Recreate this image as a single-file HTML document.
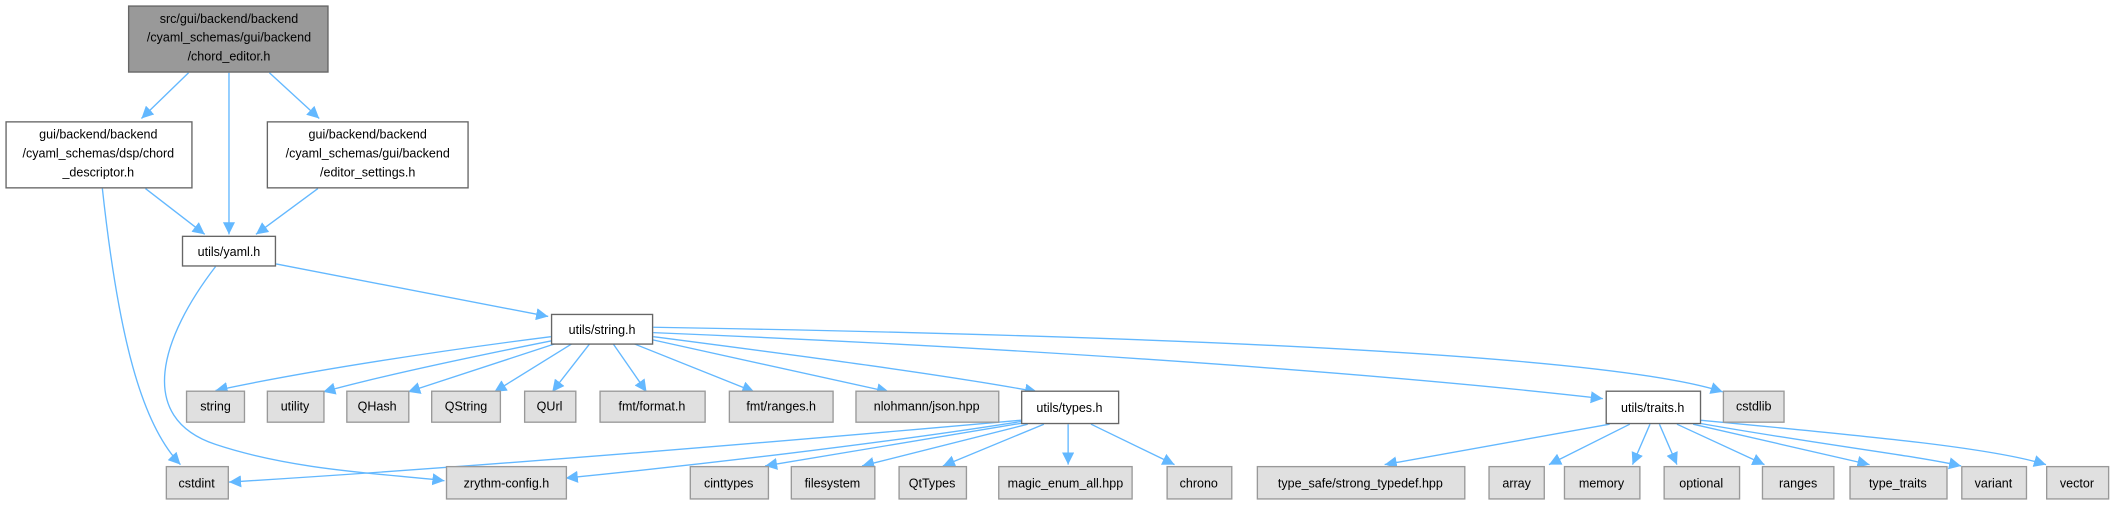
<!DOCTYPE html>
<html><head><meta charset="utf-8"><style>
html,body{margin:0;padding:0;background:#fff;}
svg{display:block;}
text{font-family:"Liberation Sans",sans-serif;font-size:9.3px;fill:#000;text-anchor:middle;}
.w{fill:#fff;stroke:#666;stroke-width:1;}
.g{fill:#e0e0e0;stroke:#999;stroke-width:1;}
.m{fill:#999;stroke:#666;stroke-width:1;}
.e{fill:none;stroke:#63b8ff;stroke-width:1;marker-end:url(#a);}
</style></head><body>
<svg width="2112" height="505" viewBox="0 0 1568 375" preserveAspectRatio="none" xmlns="http://www.w3.org/2000/svg">
<defs><marker id="a" viewBox="0 0 10 10" refX="10" refY="5" markerWidth="9" markerHeight="9" markerUnits="userSpaceOnUse" orient="auto"><path d="M0,0 L10,5 L0,10 z" fill="#63b8ff"/></marker></defs>
<path class="e" d="M140,54 L105,88"/>
<path class="e" d="M170,54 L170,174"/>
<path class="e" d="M200,54 L237,88"/>
<path class="e" d="M108,140 L152,174"/>
<path class="e" d="M236,140 L190,174"/>
<path class="e" d="M76,140 C88,250 105,315 134,345"/>
<path class="e" d="M160,198 C120,250 100,310 160,330 C220,350 290,352 330,357"/>
<path class="e" d="M205,196 L407,235"/>
<path class="e" d="M409,250 C330,260 230,275 160,290"/>
<path class="e" d="M410,253 C350,265 280,280 240,291"/>
<path class="e" d="M413,255 L303,291"/>
<path class="e" d="M425,255 L367,291"/>
<path class="e" d="M438,255 L410,291"/>
<path class="e" d="M455,255 L480,291"/>
<path class="e" d="M470,255 L560,291"/>
<path class="e" d="M483,252 L660,291"/>
<path class="e" d="M485,250 C600,265 700,278 770,291"/>
<path class="e" d="M485,247 C800,260 1050,280 1190,296"/>
<path class="e" d="M485,243 C900,250 1200,265 1279,291"/>
<path class="e" d="M758,312 C500,335 300,350 170,358"/>
<path class="e" d="M758,313 C650,330 520,345 420,355"/>
<path class="e" d="M760,314 L568,346"/>
<path class="e" d="M763,315 L640,346"/>
<path class="e" d="M775,315 L700,346"/>
<path class="e" d="M793,315 L793,345"/>
<path class="e" d="M810,315 L872,345"/>
<path class="e" d="M1195,315 L1028,345"/>
<path class="e" d="M1210,315 L1150,345"/>
<path class="e" d="M1225,315 L1212,345"/>
<path class="e" d="M1232,315 L1245,345"/>
<path class="e" d="M1245,315 L1310,345"/>
<path class="e" d="M1257,315 L1388,345"/>
<path class="e" d="M1260,314 C1350,330 1420,338 1456,346"/>
<path class="e" d="M1262,312 C1400,325 1480,333 1519,345"/>
<rect class="m" x="95.5" y="4.5" width="148" height="49"/>
<text x="170" y="17">src/gui/backend/backend</text><text x="170" y="31">/cyaml_schemas/gui/backend</text><text x="170" y="45">/chord_editor.h</text>
<rect class="w" x="4.5" y="90.5" width="138" height="49"/>
<text x="73" y="103">gui/backend/backend</text><text x="73" y="117">/cyaml_schemas/dsp/chord</text><text x="73" y="131">_descriptor.h</text>
<rect class="w" x="198.5" y="90.5" width="149" height="49"/>
<text x="273" y="103">gui/backend/backend</text><text x="273" y="117">/cyaml_schemas/gui/backend</text><text x="273" y="131">/editor_settings.h</text>
<rect class="w" x="135.5" y="175.5" width="69" height="22"/><text x="170" y="190">utils/yaml.h</text>
<rect class="w" x="409.5" y="233.5" width="75" height="22"/><text x="447" y="248">utils/string.h</text>
<rect class="g" x="138.5" y="290.5" width="43" height="23"/><text x="160" y="305">string</text>
<rect class="g" x="198.5" y="290.5" width="42" height="23"/><text x="219" y="305">utility</text>
<rect class="g" x="257.5" y="290.5" width="46" height="23"/><text x="280" y="305">QHash</text>
<rect class="g" x="320.5" y="290.5" width="51" height="23"/><text x="346" y="305">QString</text>
<rect class="g" x="389.5" y="290.5" width="38" height="23"/><text x="408" y="305">QUrl</text>
<rect class="g" x="445.5" y="290.5" width="78" height="23"/><text x="484" y="305">fmt/format.h</text>
<rect class="g" x="541.5" y="290.5" width="77" height="23"/><text x="580" y="305">fmt/ranges.h</text>
<rect class="g" x="635.5" y="290.5" width="106" height="23"/><text x="688" y="305">nlohmann/json.hpp</text>
<rect class="w" x="758.5" y="290.5" width="72" height="24"/><text x="794" y="306">utils/types.h</text>
<rect class="w" x="1192.5" y="290.5" width="70" height="24"/><text x="1227" y="306">utils/traits.h</text>
<rect class="g" x="1279.5" y="290.5" width="45" height="23"/><text x="1302" y="305">cstdlib</text>
<rect class="g" x="123.5" y="346.5" width="46" height="24"/><text x="146" y="362">cstdint</text>
<rect class="g" x="331.5" y="346.5" width="89" height="24"/><text x="376" y="362">zrythm-config.h</text>
<rect class="g" x="512.5" y="346.5" width="58" height="24"/><text x="541" y="362">cinttypes</text>
<rect class="g" x="587.5" y="346.5" width="62" height="24"/><text x="618" y="362">filesystem</text>
<rect class="g" x="667.5" y="346.5" width="50" height="24"/><text x="692" y="362">QtTypes</text>
<rect class="g" x="741.5" y="346.5" width="99" height="24"/><text x="791" y="362">magic_enum_all.hpp</text>
<rect class="g" x="866.5" y="346.5" width="48" height="24"/><text x="890" y="362">chrono</text>
<rect class="g" x="933.5" y="346.5" width="154" height="24"/><text x="1010" y="362">type_safe/strong_typedef.hpp</text>
<rect class="g" x="1105.5" y="346.5" width="41" height="24"/><text x="1126" y="362">array</text>
<rect class="g" x="1161.5" y="346.5" width="56" height="24"/><text x="1189" y="362">memory</text>
<rect class="g" x="1235.5" y="346.5" width="56" height="24"/><text x="1263" y="362">optional</text>
<rect class="g" x="1308.5" y="346.5" width="53" height="24"/><text x="1335" y="362">ranges</text>
<rect class="g" x="1373.5" y="346.5" width="72" height="24"/><text x="1409" y="362">type_traits</text>
<rect class="g" x="1456.5" y="346.5" width="48" height="24"/><text x="1480" y="362">variant</text>
<rect class="g" x="1519.5" y="346.5" width="46" height="24"/><text x="1542" y="362">vector</text>
</svg>
</body></html>
